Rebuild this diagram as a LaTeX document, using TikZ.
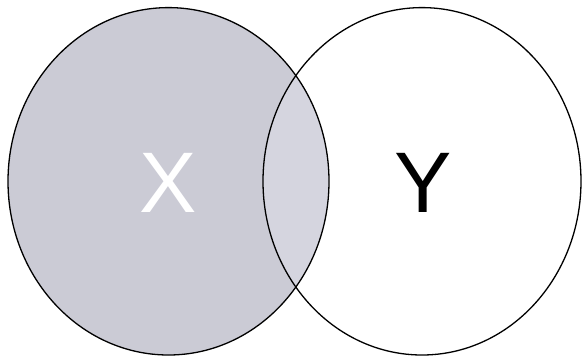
\documentclass[tikz,border=0pt]{standalone}
\usepackage{fontspec}
\setmainfont{Liberation Sans}
\definecolor{setfill}{RGB}{203,203,213}
\definecolor{capfill}{RGB}{213,213,223}
\begin{document}
\begin{tikzpicture}[x=1pt,y=-1pt,
  setline/.style={draw=black,line width=1.3pt},
  setlabel/.style={font=\fontsize{86}{86}\selectfont,inner sep=0pt,anchor=base}]
\useasboundingbox (0,0) rectangle (582,357);
\fill[setfill] (168.5,181.3) ellipse [x radius=160.5, y radius=173.7];
\begin{scope}
  \clip (168.5,181.3) ellipse [x radius=160.5, y radius=173.7];
  \fill[capfill] (422,181.3) ellipse [x radius=159, y radius=173.7];
\end{scope}
\draw[setline] (168.5,181.3) ellipse [x radius=160.5, y radius=173.7];
\draw[setline] (422,181.3) ellipse [x radius=159, y radius=173.7];
\node[setlabel,text=white] (X) at (168,212.7) {X};
\node[setlabel,text=black] (Y) at (423,212.7) {Y};
\end{tikzpicture}
\end{document}
